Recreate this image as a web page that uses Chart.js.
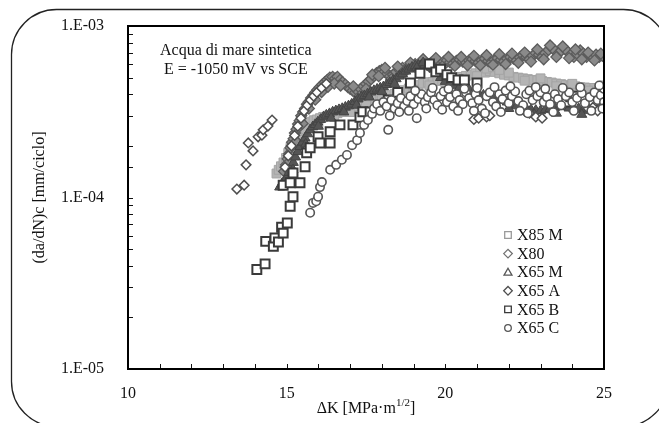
<!DOCTYPE html>
<html><head><meta charset="utf-8">
<script src="https://cdn.jsdelivr.net/npm/chart.js@4/dist/chart.umd.min.js"></script>
<style>html,body{margin:0;padding:0;background:#fff;}#wrap{width:659px;height:423px;}</style>
</head><body><div id="wrap"><canvas id="c" width="659" height="423"></canvas></div>
<script>
// ---- data ----
const seriesNames = ['X85 M','X80','X65 M','X65 A','X65 B','X65 C'];
const xTickLabels = [10,15,20,25];
const yTickLabels = ['1.E-05','1.E-04','1.E-03'];
const noteLines = ['Acqua di mare sintetica','E = -1050 mV vs SCE'];
const xTitle = ['ΔK [MPa·m','1/2',']'];
const yTitle = '(da/dN)c [mm/ciclo]';

const x85m = [[14.68,1.38e-4],[14.75,1.45e-4],[14.82,1.52e-4],[14.9,1.6e-4],[14.98,1.7e-4],[15.05,1.82e-4],[15.12,1.95e-4],[15.2,2.05e-4],[15.28,2.18e-4],[15.36,2.32e-4],[15.45,2.45e-4],[15.55,2.58e-4],[15.65,2.68e-4],[15.75,2.75e-4],[15.85,2.82e-4],[15.95,2.85e-4],[16.05,2.9e-4],[16.15,2.95e-4],[16.3,3.0e-4],[16.45,3.05e-4],[16.6,3.1e-4],[16.75,3.15e-4],[16.9,3.22e-4],[17.05,3.3e-4],[17.2,3.4e-4],[17.35,3.5e-4],[17.5,3.58e-4],[17.65,3.65e-4],[17.8,3.72e-4],[17.95,3.8e-4],[18.1,3.88e-4],[18.25,3.95e-4],[18.4,4.02e-4],[18.55,4.12e-4],[18.7,4.22e-4],[18.85,4.32e-4],[19.0,4.42e-4],[19.15,4.52e-4],[19.3,4.62e-4],[19.45,4.7e-4],[19.6,4.72e-4],[19.75,4.78e-4],[19.9,4.82e-4],[20.05,4.88e-4],[20.2,4.95e-4],[20.35,5.0e-4],[20.5,5.05e-4],[20.65,5.12e-4],[20.8,5.2e-4],[20.95,5.3e-4],[21.1,5.4e-4],[21.25,5.35e-4],[21.4,5.45e-4],[21.55,5.4e-4],[21.7,5.3e-4],[21.85,5.2e-4],[22.0,5.15e-4],[22.15,5.05e-4],[22.3,5.0e-4],[22.45,4.95e-4],[22.6,4.9e-4],[22.75,4.85e-4],[22.9,4.82e-4],[23.05,4.78e-4],[23.2,4.72e-4],[23.35,4.68e-4],[23.5,4.62e-4],[23.65,4.58e-4],[23.8,4.52e-4],[23.95,4.48e-4],[24.1,4.45e-4],[24.25,4.4e-4],[24.4,4.38e-4],[24.55,4.35e-4],[24.7,4.35e-4],[24.85,4.3e-4],[25.0,4.32e-4],
  [15.0,1.55e-4],[15.3,2.05e-4],[15.6,2.5e-4],[16.0,2.7e-4],[16.5,2.95e-4],[17.0,3.15e-4],[17.5,3.45e-4],[18.0,3.7e-4],[18.5,3.95e-4],[19.0,4.25e-4],[19.5,4.5e-4],[20.0,4.7e-4],[20.5,4.85e-4],[21.0,5.1e-4],[21.3,5.65e-4],[21.5,5.75e-4],[21.7,5.55e-4],[22.0,5.35e-4],[22.5,4.8e-4],[23.0,4.95e-4],[23.5,4.45e-4],[24.0,4.6e-4],[24.5,4.2e-4],[25.0,4.5e-4]];

const x80 = [[14.92,1.42e-4],[14.98,1.55e-4],[15.03,1.68e-4],[15.08,1.8e-4],[15.12,1.95e-4],[15.17,2.1e-4],[15.22,2.2e-4],[15.26,2.38e-4],[15.31,2.5e-4],[15.36,2.68e-4],[15.41,2.8e-4],[15.46,3.0e-4],[15.52,3.15e-4],[15.58,3.3e-4],[15.64,3.5e-4],[15.7,3.62e-4],[15.77,3.8e-4],[15.84,3.95e-4],[15.9,4.1e-4],[15.97,4.25e-4],[16.04,4.4e-4],[16.12,4.55e-4],[16.2,4.7e-4],[16.28,4.85e-4],[16.36,5.0e-4],[16.45,5.05e-4],[16.53,4.95e-4],[16.6,5.05e-4],[16.68,4.85e-4],[16.76,4.7e-4],[16.85,4.55e-4],[16.93,4.4e-4],[17.0,4.3e-4],[17.08,4.2e-4],[17.16,4.1e-4],[17.25,4.15e-4],[17.33,4.3e-4],[17.42,4.45e-4],[17.5,4.6e-4],[17.58,4.75e-4],[17.66,4.9e-4],[17.75,5.1e-4],[17.83,5.3e-4],[17.92,5.45e-4],[18.0,5.55e-4],[18.08,5.4e-4],[18.17,5.25e-4],[18.26,5.1e-4],[18.35,5.2e-4],[18.45,5.4e-4],[18.55,5.55e-4],[18.65,5.7e-4],[18.75,5.6e-4],[18.85,5.75e-4],[18.95,5.9e-4],[19.05,6.0e-4],[19.15,5.9e-4],[19.25,6.05e-4],[19.35,6.15e-4],[19.45,6.0e-4],[19.55,6.1e-4],[19.65,6.25e-4],[19.75,6.1e-4],[19.85,6.0e-4],[19.95,6.2e-4],[20.05,6.3e-4],[20.15,6.15e-4],[20.25,6.05e-4],[20.35,6.25e-4],[20.45,6.35e-4],[20.55,6.2e-4],[20.65,6.1e-4],[20.75,6.3e-4],[20.85,6.4e-4],[20.95,6.25e-4],[21.05,6.1e-4],[21.15,6.3e-4],[21.25,6.45e-4],[21.35,6.25e-4],[21.45,6.1e-4],[21.55,6.35e-4],[21.65,6.5e-4],[21.75,6.35e-4],[21.85,6.2e-4],[21.95,6.45e-4],[22.05,6.6e-4],[22.15,6.45e-4],[22.25,6.3e-4],[22.35,6.55e-4],[22.45,6.75e-4],[22.55,6.6e-4],[22.65,6.4e-4],[22.75,6.7e-4],[22.85,6.95e-4],[22.95,6.8e-4],[23.05,6.6e-4],[23.15,6.95e-4],[23.25,7.25e-4],[23.35,7.5e-4],[23.45,7.2e-4],[23.55,6.9e-4],[23.65,7.2e-4],[23.75,7.4e-4],[23.85,7.1e-4],[23.95,6.8e-4],[24.05,6.6e-4],[24.15,6.9e-4],[24.25,7.2e-4],[24.35,6.9e-4],[24.45,6.6e-4],[24.55,6.8e-4],[24.65,6.6e-4],[24.75,6.8e-4],[24.85,6.6e-4],[24.95,6.7e-4],
  [15.1,1.62e-4],[15.3,2.12e-4],[15.5,2.7e-4],[15.7,3.3e-4],[15.9,3.72e-4],[16.1,4.12e-4],[16.3,4.42e-4],[16.5,4.62e-4],[16.7,4.5e-4],[17.1,4.45e-4],[17.3,3.9e-4],[17.5,4.3e-4],[17.7,5.2e-4],[17.9,5.1e-4],[18.1,5.7e-4],[18.3,4.9e-4],[18.5,5.8e-4],[18.7,5.35e-4],[18.9,6.1e-4],[19.1,5.65e-4],[19.3,6.4e-4],[19.5,5.8e-4],[19.7,6.5e-4],[19.9,5.8e-4],[20.1,6.6e-4],[20.3,5.85e-4],[20.5,6.6e-4],[20.7,5.9e-4],[20.9,6.7e-4],[21.1,5.9e-4],[21.3,6.75e-4],[21.5,5.95e-4],[21.7,6.85e-4],[21.9,6.0e-4],[22.1,6.9e-4],[22.3,6.1e-4],[22.5,7.0e-4],[22.7,6.2e-4],[22.9,7.3e-4],[23.1,6.4e-4],[23.3,7.7e-4],[23.5,6.6e-4],[23.7,7.6e-4],[23.9,6.5e-4],[24.1,7.3e-4],[24.3,6.4e-4],[24.5,7.0e-4],[24.7,6.3e-4],[24.9,6.9e-4]];

const x65m = [[14.78,1.15e-4],[14.85,1.2e-4],[14.92,1.25e-4],[15.0,1.3e-4],[15.07,1.4e-4],[15.14,1.5e-4],[15.21,1.6e-4],[15.28,1.72e-4],[15.35,1.85e-4],[15.42,1.98e-4],[15.5,2.1e-4],[15.58,2.22e-4],[15.66,2.35e-4],[15.74,2.48e-4],[15.82,2.58e-4],[15.9,2.66e-4],[15.98,2.75e-4],[16.07,2.85e-4],[16.16,2.95e-4],[16.25,3.02e-4],[16.35,3.08e-4],[16.45,3.15e-4],[16.55,3.2e-4],[16.65,3.25e-4],[16.75,3.3e-4],[16.85,3.36e-4],[16.95,3.42e-4],[17.05,3.5e-4],[17.15,3.62e-4],[17.25,3.75e-4],[17.35,3.85e-4],[17.45,3.92e-4],[17.55,4.02e-4],[17.65,4.12e-4],[17.75,4.2e-4],[17.85,4.28e-4],[17.95,4.35e-4],[18.05,4.42e-4],[18.15,4.55e-4],[18.25,4.68e-4],[18.35,4.8e-4],[18.45,4.92e-4],[18.55,5.1e-4],[18.65,5.25e-4],[18.75,5.45e-4],[18.85,5.6e-4],[18.95,5.75e-4],[19.05,5.85e-4],[19.15,5.9e-4],[19.25,5.95e-4],[19.35,5.9e-4],[19.45,5.85e-4],[19.55,5.75e-4],[19.65,5.6e-4],[19.75,5.3e-4],[19.85,5.0e-4],[20.0,4.75e-4],[20.15,4.6e-4],[20.3,4.5e-4],[20.45,4.4e-4],[20.6,4.35e-4],[20.75,4.25e-4],[20.9,4.15e-4],[21.05,4.05e-4],[21.2,3.95e-4],[21.35,3.9e-4],[21.5,3.82e-4],[21.65,3.75e-4],[21.8,3.68e-4],[21.95,3.6e-4],[22.1,3.5e-4],[22.25,3.42e-4],[22.4,3.35e-4],[22.55,3.3e-4],[22.7,3.25e-4],[22.85,3.22e-4],[23.0,3.2e-4],[23.15,3.25e-4],[23.3,3.3e-4],[23.45,3.35e-4],[23.6,3.4e-4],[23.75,3.38e-4],[23.9,3.32e-4],[24.05,3.28e-4],[24.2,3.3e-4],[24.35,3.25e-4],[24.5,3.22e-4],[24.65,3.28e-4],[24.8,3.3e-4],[24.95,3.25e-4],
  [15.2,1.45e-4],[15.6,2.05e-4],[16.0,2.6e-4],[16.4,2.9e-4],[16.8,3.15e-4],[17.2,3.45e-4],[17.6,3.85e-4],[18.0,4.15e-4],[18.4,4.6e-4],[19.1,5.7e-4],[19.3,6.1e-4],[19.5,6.0e-4],[22.0,3.3e-4],[22.8,3.05e-4],[23.5,3.1e-4],[24.3,3.05e-4],[24.9,3.45e-4]];

const x65a = [[13.43,1.12e-4],[13.66,1.18e-4],[13.72,1.55e-4],[13.79,2.08e-4],[13.94,1.87e-4],[14.1,2.26e-4],[14.22,2.31e-4],[14.26,2.48e-4],[14.41,2.61e-4],[14.54,2.83e-4],[14.95,1.5e-4],[15.05,1.75e-4],[15.15,2.0e-4],[15.25,2.3e-4],[15.35,2.6e-4],[15.45,2.9e-4],[15.55,3.2e-4],[15.65,3.45e-4],[15.75,3.7e-4],[15.85,3.9e-4],[15.95,4.1e-4],[16.1,4.35e-4],[16.25,4.6e-4],[20.9,2.85e-4],[21.05,2.9e-4],[21.3,2.95e-4],[21.4,3.0e-4],[22.5,3.2e-4],[22.65,3.1e-4],[22.85,2.95e-4],[23.05,2.9e-4],[24.5,3.3e-4],[24.65,3.35e-4],[24.8,3.2e-4]];

const x65b = [[14.06,3.8e-5],[14.32,4.1e-5],[14.34,5.55e-5],[14.58,5.2e-5],[14.63,5.8e-5],[14.74,5.5e-5],[14.84,6.7e-5],[14.89,6.2e-5],[15.02,7.1e-5],[15.11,8.9e-5],[14.89,1.18e-4],[15.11,1.22e-4],[15.2,1.01e-4],[15.42,1.22e-4],[15.2,1.39e-4],[15.58,1.51e-4],[15.63,1.82e-4],[15.74,1.95e-4],[15.99,2.26e-4],[16.05,2.08e-4],[16.37,2.08e-4],[16.37,2.42e-4],[16.68,2.65e-4],[17.09,2.65e-4],[17.31,2.94e-4],[17.4,3.16e-4],[17.63,3.15e-4],[17.9,3.4e-4],[18.2,3.7e-4],[18.5,4.1e-4],[18.9,4.65e-4],[19.2,5.3e-4],[19.5,6.0e-4],[19.7,5.4e-4],[19.85,5.6e-4],[20.05,5.2e-4],[20.2,5.0e-4],[20.4,4.84e-4],[20.6,4.84e-4],[21.0,4.65e-4],[23.8,3.6e-4],[23.95,3.86e-4],[24.1,3.9e-4]];

const x65c = [[15.74,8.15e-5],[15.83,9.3e-5],[15.93,9.5e-5],[15.99,1.01e-4],[16.05,1.15e-4],[16.11,1.23e-4],[16.37,1.45e-4],[16.56,1.55e-4],[16.74,1.66e-4],[16.9,1.77e-4],[17.06,2.02e-4],[17.22,2.16e-4],[17.31,2.38e-4],[17.44,2.65e-4],[17.56,2.83e-4],[17.69,3.07e-4],[17.75,3.3e-4],[17.85,3.5e-4],[17.95,3.2e-4],[18.05,3.6e-4],[18.15,3.4e-4],[18.2,2.48e-4],[18.3,3.7e-4],[18.4,3.3e-4],[18.5,3.55e-4],[18.6,3.8e-4],[18.7,3.4e-4],[18.8,3.65e-4],[18.9,3.9e-4],[19.0,3.5e-4],[19.1,2.9e-4],[19.15,3.75e-4],[19.25,4.0e-4],[19.35,3.6e-4],[19.45,3.85e-4],[19.55,4.1e-4],[19.65,3.7e-4],[19.75,3.45e-4],[19.85,3.9e-4],[19.95,4.15e-4],[20.05,3.6e-4],[20.15,3.85e-4],[20.25,3.4e-4],[20.35,4.0e-4],[20.45,3.7e-4],[20.55,3.5e-4],[20.65,4.1e-4],[20.75,3.8e-4],[20.85,3.55e-4],[20.95,4.0e-4],[21.05,3.7e-4],[21.15,3.3e-4],[21.3,3.9e-4],[21.4,4.1e-4],[21.5,3.6e-4],[21.6,3.4e-4],[21.7,4.0e-4],[21.8,3.75e-4],[21.9,4.2e-4],[22.0,3.55e-4],[22.1,3.9e-4],[22.2,4.15e-4],[22.3,3.65e-4],[22.45,3.45e-4],[22.55,4.0e-4],[22.65,4.2e-4],[22.75,3.7e-4],[22.9,3.9e-4],[23.0,4.1e-4],[23.1,3.6e-4],[23.2,3.85e-4],[23.3,3.5e-4],[23.45,4.0e-4],[23.55,3.75e-4],[23.65,3.45e-4],[23.8,3.9e-4],[23.9,4.1e-4],[24.0,3.6e-4],[24.15,3.8e-4],[24.3,4.05e-4],[24.4,3.55e-4],[24.55,3.85e-4],[24.7,4.1e-4],[24.8,3.7e-4],[24.9,3.95e-4],[25.0,4.3e-4],[25.0,3.6e-4],
  [18.25,3.0e-4],[18.55,3.15e-4],[18.85,3.2e-4],[19.05,4.2e-4],[19.4,3.3e-4],[19.6,4.35e-4],[19.9,3.25e-4],[20.1,4.3e-4],[20.4,3.2e-4],[20.6,4.3e-4],[20.9,3.2e-4],[21.0,4.35e-4],[21.25,3.1e-4],[21.55,4.4e-4],[21.75,3.15e-4],[22.05,4.45e-4],[22.35,3.2e-4],[22.6,3.1e-4],[22.85,4.4e-4],[23.15,4.3e-4],[23.4,3.15e-4],[23.7,4.35e-4],[24.05,3.2e-4],[24.25,4.4e-4],[24.6,3.2e-4],[24.85,4.5e-4],[24.95,3.3e-4]];

// ---- styles ----
const FONT = "'Liberation Serif','Times New Roman',serif";
const toPts = a => a.map(p => ({x: p[0], y: p[1]}));
const seriesData = [x85m, x80, x65m, x65a, x65b, x65c];
const seriesStyle = [
  {pointStyle:'rect', pointRadius:6.3, backgroundColor:'#b4b4b4', borderColor:'#a4a4a4', borderWidth:1, legendColor:'#9a9a9a'},
  {pointStyle:'rectRot', pointRadius:5.5, backgroundColor:'#8a8a8a', borderColor:'#5c5c5c', borderWidth:1.3, legendColor:'#707070'},
  {pointStyle:'triangle', pointRadius:5.8, backgroundColor:'#555555', borderColor:'#444444', borderWidth:1, legendColor:'#555555'},
  {pointStyle:'rectRot', pointRadius:4.8, backgroundColor:'#ffffff', borderColor:'#4e4e4e', borderWidth:1.5, legendColor:'#4e4e4e'},
  {pointStyle:'rect', pointRadius:6.3, backgroundColor:'#ffffff', borderColor:'#3a3a3a', borderWidth:2, legendColor:'#3a3a3a'},
  {pointStyle:'circle', pointRadius:4.2, backgroundColor:'#ffffff', borderColor:'#555555', borderWidth:1.6, legendColor:'#555555'}
];
const datasets = seriesNames.map((n, i) => Object.assign({
  label: n, data: toPts(seriesData[i]), showLine: false, order: seriesNames.length - 1 - i
}, seriesStyle[i]));

function marker(ctx, st, x, y, r) {
  ctx.save();
  ctx.fillStyle = '#fff'; ctx.strokeStyle = st.legendColor;
  ctx.lineWidth = 1.3;
  ctx.beginPath();
  if (st.pointStyle === 'rect') { ctx.rect(x - r, y - r, 2*r, 2*r); }
  else if (st.pointStyle === 'rectRot') { ctx.moveTo(x - r*1.3, y); ctx.lineTo(x, y - r*1.3); ctx.lineTo(x + r*1.3, y); ctx.lineTo(x, y + r*1.3); ctx.closePath(); }
  else if (st.pointStyle === 'triangle') { ctx.moveTo(x, y - r*1.2); ctx.lineTo(x + r*1.2, y + r*0.9); ctx.lineTo(x - r*1.2, y + r*0.9); ctx.closePath(); }
  else { ctx.arc(x, y, r, 0, Math.PI*2); }
  ctx.fill(); ctx.stroke(); ctx.restore();
}

const decor = {
  id: 'decor',
  beforeDraw(chart) {
    const ctx = chart.ctx;
    ctx.save();
    ctx.fillStyle = '#fff'; ctx.fillRect(0, 0, chart.width, chart.height);
    ctx.strokeStyle = '#222'; ctx.lineWidth = 1.3;
    ctx.beginPath(); ctx.roundRect(11.5, 9.5, 657, 417, 45); ctx.stroke();
    ctx.restore();
  },
  afterDatasetsDraw(chart) {
    const ctx = chart.ctx, a = chart.chartArea;
    const xs = chart.scales.x, ys = chart.scales.y;
    ctx.save();
    ctx.strokeStyle = '#111'; ctx.lineWidth = 1;
    ctx.beginPath();
    xs.ticks.forEach(t => { const px = Math.round(xs.getPixelForValue(t.value)) + 0.5; ctx.moveTo(px, a.bottom); ctx.lineTo(px, a.bottom - 5); });
    ys.ticks.forEach(t => { const py = Math.round(ys.getPixelForValue(t.value)) + 0.5; ctx.moveTo(a.left, py); ctx.lineTo(a.left + 5, py); });
    ctx.stroke();
    ctx.lineWidth = 2; ctx.strokeStyle = '#000';
    ctx.strokeRect(a.left, a.top, a.right - a.left, a.bottom - a.top);
    // note
    ctx.fillStyle = '#111'; ctx.font = '16px ' + FONT; ctx.textBaseline = 'middle'; ctx.textAlign = 'left';
    ctx.fillText(noteLines[0], 160, 51);
    ctx.fillText(noteLines[1], 164, 70);
    // legend
    seriesNames.forEach((n, i) => {
      const y = 235 + i * 18.6;
      marker(ctx, seriesStyle[i], 508, y, 3.3);
      ctx.fillStyle = '#111'; ctx.font = '16px ' + FONT; ctx.textBaseline = 'middle';
      ctx.fillText(n, 517, y + 1);
    });
    // x title with superscript
    ctx.font = '16px ' + FONT;
    const w0 = ctx.measureText(xTitle[0]).width, w2 = ctx.measureText(xTitle[2]).width;
    ctx.font = '11px ' + FONT;
    const w1 = ctx.measureText(xTitle[1]).width;
    let x0 = 366 - (w0 + w1 + w2) / 2;
    const ty = 409;
    ctx.font = '16px ' + FONT; ctx.fillText(xTitle[0], x0, ty);
    ctx.font = '11px ' + FONT; ctx.fillText(xTitle[1], x0 + w0, ty - 6);
    ctx.font = '16px ' + FONT; ctx.fillText(xTitle[2], x0 + w0 + w1, ty);
    ctx.restore();
  }
};

new Chart(document.getElementById('c'), {
  type: 'scatter',
  data: { datasets },
  options: {
    responsive: false, animation: false, devicePixelRatio: 1,
    layout: { padding: { left: 0, top: 26, right: 55, bottom: 0 } },
    plugins: { legend: { display: false }, tooltip: { enabled: false } },
    scales: {
      x: {
        type: 'linear', min: 10, max: 25,
        grid: { display: false }, border: { display: false },
        ticks: { stepSize: 1, autoSkip: false, maxRotation: 0, padding: 7, color: '#111', font: { family: FONT, size: 16 },
          callback: v => xTickLabels.includes(v) ? String(v) : '' },
        afterFit: s => { s.height = 54; }
      },
      y: {
        type: 'logarithmic', min: 1e-5, max: 1e-3,
        grid: { display: false }, border: { display: false },
        ticks: { autoSkip: false, padding: 16, color: '#111', font: { family: FONT, size: 16 },
          callback: v => { const e = Math.log10(v); return Math.abs(e - Math.round(e)) < 1e-9 ? yTickLabels[Math.round(e) + 5] : ''; } },
        title: { display: true, text: yTitle, color: '#111', font: { family: FONT, size: 16 }, padding: { top: 30, bottom: 0 } },
        afterFit: s => { s.width = 128; }
      }
    }
  },
  plugins: [decor]
});
</script></body></html>
